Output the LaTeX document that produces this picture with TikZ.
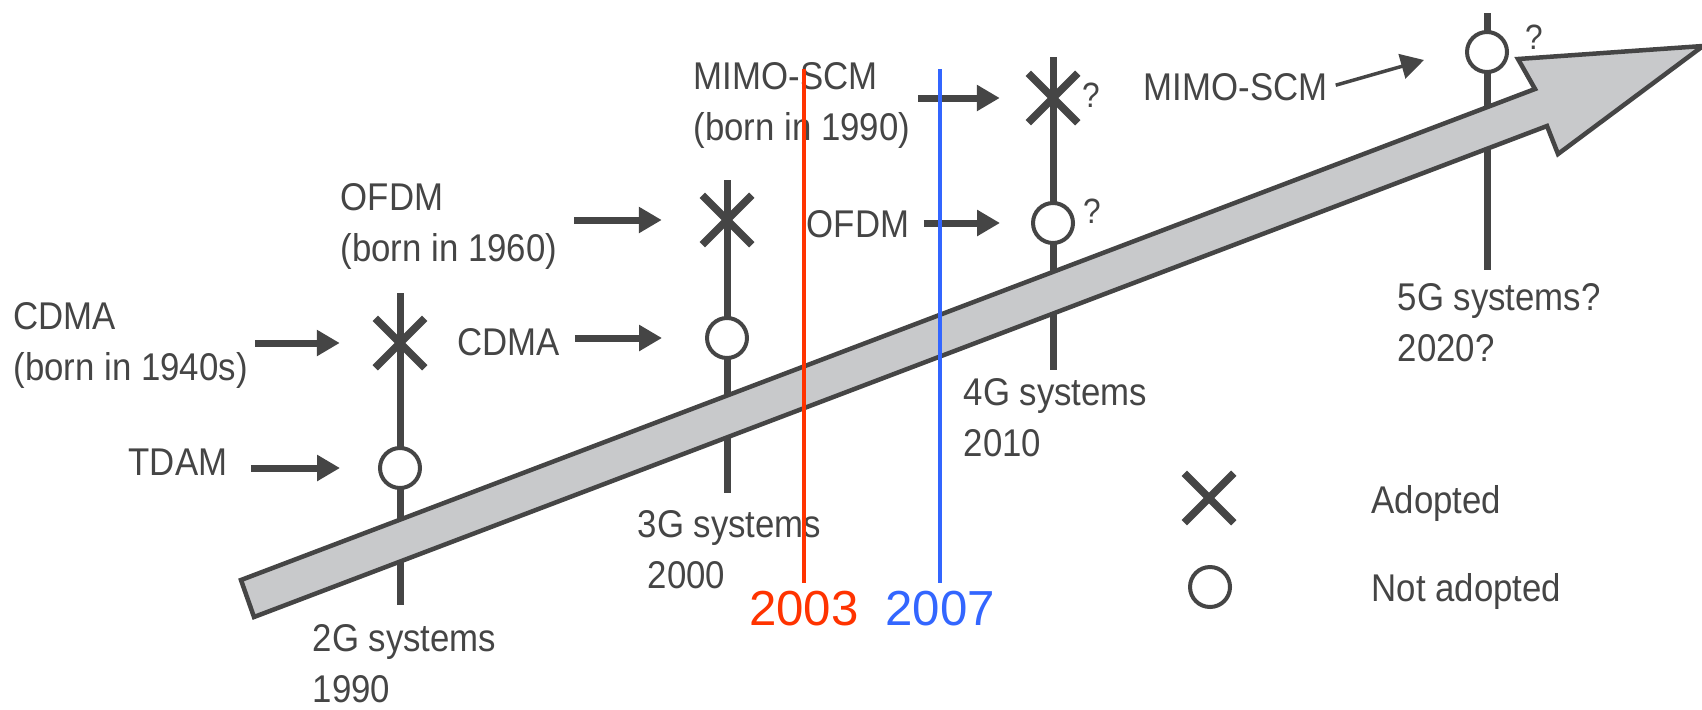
\documentclass[tikz,border=0pt]{standalone}
\usepackage{fontspec}
\setmainfont{Liberation Sans}[FakeStretch=0.9]
\newfontfamily\yearfont{Liberation Sans}
\usetikzlibrary{arrows.meta,shapes.misc}

\definecolor{ink}{HTML}{454545}
\definecolor{barfill}{HTML}{C8C9CB}
\definecolor{yearred}{HTML}{FF3300}
\definecolor{yearblue}{HTML}{3366FF}

\tikzset{
  lbl/.style={anchor=north west, inner sep=0pt, align=left, text=ink,
    font=\fontsize{11}{14.5}\selectfont},
  gen/.style={draw=ink, line width=0.7mm},
  adopted/.style={cross out, draw=ink, line width=0.75mm, minimum size=4.2mm, inner sep=0pt},
  notadopted/.style={circle, draw=ink, fill=white, line width=0.4mm, minimum size=4mm, inner sep=0pt},
  feed/.style={draw=ink, line width=0.7mm, -{Triangle[length=2.3mm,width=2.5mm]}},
  qmark/.style={inner sep=0pt, text=ink, font=\fontsize{10}{12}\selectfont},
  year/.style={anchor=north, inner sep=0pt, font=\yearfont\fontsize{14}{16}\selectfont},
}

\begin{document}
\begin{tikzpicture}[x=0.1mm, y=-0.1mm]
  \useasboundingbox (0,0) rectangle (1702,709);

  % one tick per generation, the bar goes over them
  \draw[gen] (400,293) -- (400,605);
  \draw[gen] (727,180) -- (727,493);
  \draw[gen] (1053,57) -- (1053,370);
  \draw[gen] (1487,13) -- (1487,270);

  % time arrow
  \draw[draw=ink, fill=barfill, line width=0.45mm]
    (241,580) -- (1535,89) -- (1518,59) -- (1703,46) -- (1558,154) -- (1547,126) -- (254,617) -- cycle;

  % adopted / not adopted marks
  \node[adopted] (x2g) at (400,343) {};
  \node[notadopted] (o2g) at (400,468) {};
  \node[adopted] (x3g) at (727,220) {};
  \node[notadopted] (o3g) at (727,338) {};
  \node[adopted] (x4g) at (1053,98) {};
  \node[notadopted] (o4g) at (1053,223) {};
  \node[notadopted] (o5g) at (1487,52) {};

  \node[qmark] (q4x) at (1091,95) {?};
  \node[qmark] (q4o) at (1092,211) {?};
  \node[qmark] (q5o) at (1534,37) {?};

  % techniques
  \node[lbl] (cdma1) at (13,302) {CDMA\\(born in 1940s)};
  \node[lbl] (tdam) at (128,448) {TDAM};
  \node[lbl] (ofdm1) at (340,183) {OFDM\\(born in 1960)};
  \node[lbl] (cdma2) at (457,328) {CDMA};
  \node[lbl] (mimo1) at (693,62) {MIMO-SCM\\(born in 1990)};
  \node[lbl] (ofdm2) at (806,210) {OFDM};
  \node[lbl] (mimo2) at (1143,73) {MIMO-SCM};

  \draw[feed, shorten <=0.7mm, shorten >=3.55mm] (cdma1.east |- x2g) -- (x2g);
  \draw[feed, shorten <=2.3mm, shorten >=3.8mm] (tdam.east |- o2g) -- (o2g);
  \draw[feed, shorten <=1.6mm, shorten >=4.05mm] (ofdm1.east |- x3g) -- (x3g);
  \draw[feed, shorten <=1.4mm, shorten >=4.3mm] (cdma2.east |- o3g) -- (o3g);
  \draw[feed, shorten <=0.7mm, shorten >=2.85mm] (mimo1.east |- x4g) -- (x4g);
  \draw[feed, shorten <=1.4mm, shorten >=3.1mm] (ofdm2.east |- o4g) -- (o4g);
  \draw[feed, line width=0.35mm, shorten <=0.8mm] (mimo2.east) -- ([xshift=-6.3mm,yshift=-0.8mm]o5g.center);

  % generations
  \node[lbl] (gen2) at (312,624) {2G systems\\1990};
  \node[lbl] (gen3) at (637,510) {3G systems\\\hspace{1mm}2000};
  \node[lbl] (gen4) at (963,378) {4G systems\\2010};
  \node[lbl] (gen5) at (1397,283) {5G systems?\\2020?};

  % key
  \node[adopted] (keyx) at (1209,498) {};
  \node[notadopted] (keyo) at (1210,587) {};
  \node[lbl] (keyxt) at (1371,485) {Adopted};
  \node[lbl] (keyot) at (1371,573) {Not adopted};

  % years marked on top
  \node[year, text=yearred] (y2003) at (804,590) {2003};
  \node[year, text=yearblue] (y2007) at (940,590) {2007};
  \coordinate (r0) at (804,69);
  \coordinate (b0) at (940,69);
  \draw[yearred, line width=0.45mm, shorten >=0.7mm] (r0) -- (y2003);
  \draw[yearblue, line width=0.45mm, shorten >=0.7mm] (b0) -- (y2007);
\end{tikzpicture}
\end{document}
